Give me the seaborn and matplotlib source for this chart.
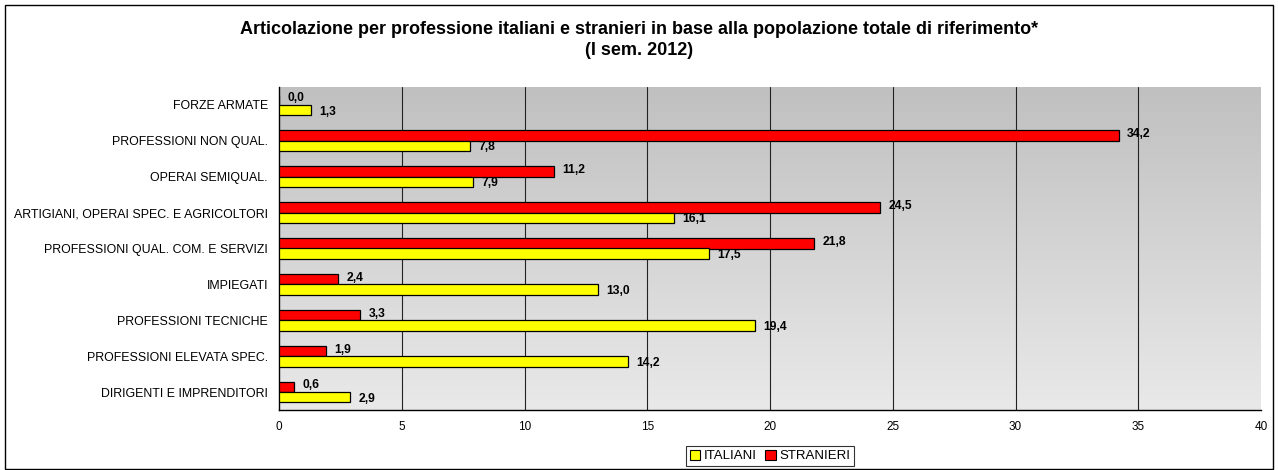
import numpy as np
import pandas as pd
import matplotlib
matplotlib.use("Agg")
import matplotlib.pyplot as plt
import seaborn as sns
from matplotlib.patches import Rectangle, Patch

categories = [
    "FORZE ARMATE",
    "PROFESSIONI NON QUAL.",
    "OPERAI SEMIQUAL.",
    "ARTIGIANI, OPERAI SPEC. E AGRICOLTORI",
    "PROFESSIONI QUAL. COM. E SERVIZI",
    "IMPIEGATI",
    "PROFESSIONI TECNICHE",
    "PROFESSIONI ELEVATA SPEC.",
    "DIRIGENTI E IMPRENDITORI",
]
italiani = [1.3, 7.8, 7.9, 16.1, 17.5, 13.0, 19.4, 14.2, 2.9]
stranieri = [0.0, 34.2, 11.2, 24.5, 21.8, 2.4, 3.3, 1.9, 0.6]
x_ticks = [0, 5, 10, 15, 20, 25, 30, 35, 40]
series_names = ["ITALIANI", "STRANIERI"]
colors = {"ITALIANI": "#FFFF00", "STRANIERI": "#FF0000"}
title = ("Articolazione per professione italiani e stranieri in base alla popolazione totale di riferimento*\n"
         "(I sem. 2012)")

df = pd.DataFrame({
    "categoria": categories * 2,
    "valore": stranieri + italiani,
    "serie": ["STRANIERI"] * len(categories) + ["ITALIANI"] * len(categories),
})

sns.set_theme(style="white")
plt.rcParams["font.family"] = ["Liberation Sans", "DejaVu Sans"]
for k in ["text.color", "axes.labelcolor", "xtick.color", "ytick.color"]:
    plt.rcParams[k] = "black"

fig = plt.figure(figsize=(12.78, 4.70), dpi=100)
ax = fig.add_axes([279 / 1278, 1 - 410 / 470, (1261 - 279) / 1278, (410 - 87) / 470])

# figure border
fig.patches.append(Rectangle((5 / 1278, 1 / 470), 1268 / 1278, 464 / 470,
                             transform=fig.transFigure, fill=False,
                             edgecolor="black", linewidth=1.0))

sns.barplot(data=df, y="categoria", x="valore", hue="serie",
            hue_order=["STRANIERI", "ITALIANI"], order=categories,
            palette=colors, orient="h", width=0.58, gap=0,
            edgecolor="black", linewidth=0.9, saturation=1,
            legend=False, ax=ax, zorder=3)

# gradient background
grad = np.linspace(0, 1, 256).reshape(-1, 1)
cmap = matplotlib.colors.LinearSegmentedColormap.from_list("g", ["#c0c0c0", "#e9e9e9"])
ax.imshow(grad, extent=(0, 40, len(categories) - 0.5, -0.5), aspect="auto",
          cmap=cmap, zorder=0, origin="upper")
ax.set_xlim(0, 40)
ax.set_ylim(len(categories) - 0.5, -0.5)

for xv in x_ticks[1:-1]:
    ax.axvline(xv, color="#222222", linewidth=0.8, zorder=1)

ax.set_xticks(x_ticks)
ax.set_xticklabels([str(v) for v in x_ticks], fontsize=8.5)
ax.set_yticks(range(len(categories)))
ax.set_yticklabels(categories, fontsize=8.9)
ax.set_yticks(np.arange(-0.5, len(categories), 1), minor=True)
ax.tick_params(axis="y", which="major", length=0, pad=8)
ax.tick_params(axis="y", which="minor", length=4, width=1, color="black", direction="out")
ax.tick_params(axis="x", which="major", length=4, width=1, color="black", direction="out", pad=4)
ax.set_xlabel("")
ax.set_ylabel("")

for side in ["top", "right"]:
    ax.spines[side].set_visible(False)
for side in ["left", "bottom"]:
    ax.spines[side].set_color("black")
    ax.spines[side].set_linewidth(1.0)

# value labels
for cont, vals, dy in zip(ax.containers, [stranieri, italiani], [1, -1]):
    for bar, v in zip(cont, vals):
        yc = bar.get_y() + bar.get_height() / 2
        ax.annotate(f"{v:.1f}".replace(".", ","), (bar.get_width(), yc),
                    xytext=(6, dy), textcoords="offset points",
                    ha="left", va="center", fontsize=8.7, fontweight="bold",
                    color="black", zorder=5)

fig.text(0.5, 1 - 40 / 470, title, ha="center", va="center", fontsize=13,
         fontweight="bold", linespacing=1.35,
         family=["Liberation Sans Narrow", "Liberation Sans", "DejaVu Sans"])

handles = [Patch(facecolor=colors[s], edgecolor="black", linewidth=0.8) for s in series_names]
leg = fig.legend(handles, series_names, loc="center", bbox_to_anchor=(770 / 1278, 1 - 456 / 470),
                 ncol=2, frameon=True, fontsize=9.5, handlelength=0.8, handleheight=0.8,
                 handletextpad=0.3, columnspacing=0.6, borderpad=0.3, fancybox=False)
leg.get_frame().set_edgecolor("black")
leg.get_frame().set_linewidth(0.8)

fig.savefig("out.png", dpi=100)
